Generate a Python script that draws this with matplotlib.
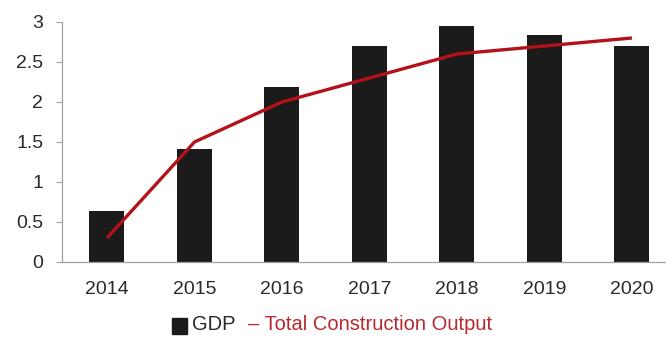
import matplotlib
matplotlib.use("Agg")
import matplotlib.pyplot as plt
from matplotlib.patches import Rectangle

years = ["2014", "2015", "2016", "2017", "2018", "2019", "2020"]
gdp = [0.64, 1.41, 2.19, 2.70, 2.95, 2.84, 2.70]
construction = [0.30, 1.50, 2.00, 2.30, 2.60, 2.70, 2.80]
y_ticks = [0, 0.5, 1, 1.5, 2, 2.5, 3]
y_labels = ["0", "0.5", "1", "1.5", "2", "2.5", "3"]

plt.rcParams["font.family"] = ["Liberation Sans", "DejaVu Sans"]

fig = plt.figure(figsize=(6.66, 3.38), dpi=100)
ax = fig.add_axes([62 / 666, (338 - 262) / 338, 604 / 666, 240 / 338])

x = list(range(len(years)))
ax.bar(x, gdp, width=0.4, color="#1b1b1b", zorder=2)
ax.plot(x, construction, color="#b3121a", lw=2.4, zorder=3,
        solid_capstyle="butt")

ax.set_ylim(0, 3)
ax.set_xlim(-0.514, 6.39)
ax.set_yticks(y_ticks)
ax.set_yticklabels(y_labels)
ax.set_xticks(x)
ax.set_xticklabels(years)

for s in ("top", "right"):
    ax.spines[s].set_visible(False)
for s in ("left", "bottom"):
    ax.spines[s].set_color("#a0a0a0")
    ax.spines[s].set_linewidth(0.9)

ax.tick_params(axis="y", length=4, width=0.8, color="#a0a0a0",
               labelsize=14, labelcolor="#2a2a2a", pad=9.5)
ax.tick_params(axis="x", length=0, labelsize=14, labelcolor="#2a2a2a", pad=14)

# legend: black swatch + series names
fig.patches.append(Rectangle((172 / 666, (338 - 334) / 338), 15 / 666, 16 / 338,
                             transform=fig.transFigure, color="#1b1b1b"))
fig.text(192 / 666, (338 - 325) / 338, "GDP", fontsize=14.5, color="#2a2a2a",
         va="center", ha="left")
fig.text(248 / 666, (338 - 325) / 338, "\u2013 Total Construction Output",
         fontsize=14.5, color="#b8282e", va="center", ha="left")

fig.savefig("out.png", dpi=100)
